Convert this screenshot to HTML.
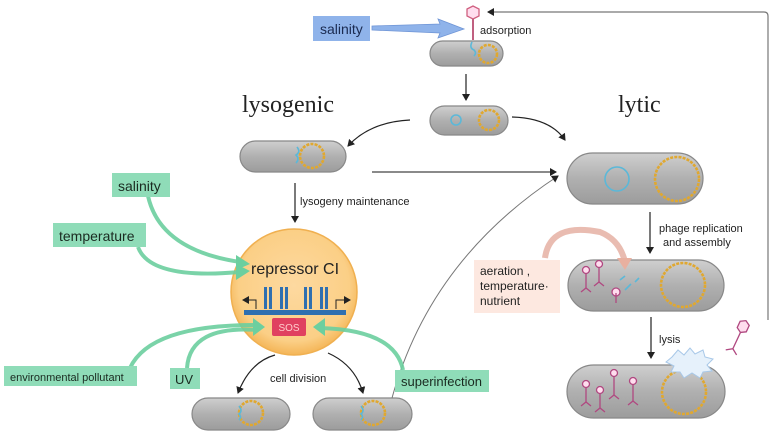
<!DOCTYPE html>
<html><head><meta charset="utf-8"><style>
html,body{margin:0;padding:0;background:#fff;}
svg{display:block;font-family:"Liberation Sans",sans-serif;}
</style></head><body>
<svg width="774" height="436" viewBox="0 0 774 436" xmlns="http://www.w3.org/2000/svg">
<defs>
<linearGradient id="cg" x1="0" y1="0" x2="0" y2="1">
<stop offset="0" stop-color="#cfcfcf"/><stop offset="0.5" stop-color="#b0b0b0"/><stop offset="1" stop-color="#9c9c9c"/>
</linearGradient>
<radialGradient id="og" cx="0.5" cy="0.45" r="0.55">
<stop offset="0" stop-color="#fdd9a0"/><stop offset="0.8" stop-color="#fbcf86"/><stop offset="1" stop-color="#f4b557"/>
</radialGradient>
<marker id="ah" markerWidth="8" markerHeight="8" refX="6" refY="4" orient="auto" markerUnits="userSpaceOnUse">
<path d="M0,0 L7,4 L0,8 z" fill="#222"/></marker>
</defs>

<path d="M768,320 L768,16 Q768,12 764,12 L488,12" fill="none" stroke="#777" stroke-width="1.2" marker-end="url(#ah)"/>

<polygon points="467,9 473,6 479,9 479,16 473,19 467,16" fill="#fde" stroke="#d06080" stroke-width="1.3"/>
<line x1="473" y1="19" x2="473" y2="40" stroke="#c06080" stroke-width="2"/>
<rect x="313" y="16" width="57" height="25" fill="#8fb3ea"/>
<text x="320" y="34" font-size="14" fill="#1a2a50">salinity</text>
<polygon points="372,26 440,24 438,19 464,29 438,38 440,33 372,30" fill="#8fb3ea" stroke="#6f95d6" stroke-width="0.8"/>
<text x="480" y="34" font-size="11" fill="#222">adsorption</text>

<g stroke="#888" stroke-width="1.2" fill="url(#cg)">
<rect x="430" y="41" width="73" height="25" rx="12.5"/>
<rect x="430" y="106" width="78" height="29" rx="14.5"/>
<rect x="240" y="141" width="106" height="31" rx="15.5"/>
<rect x="567" y="153" width="136" height="51" rx="25.5"/>
<rect x="568" y="260" width="156" height="51" rx="25.5"/>
<rect x="567" y="365" width="158" height="53" rx="26.5"/>
<rect x="192" y="398" width="98" height="32" rx="16"/>
<rect x="313" y="398" width="99" height="32" rx="16"/>
</g>
<g fill="none" stroke="#e0a830" stroke-width="2.6" stroke-dasharray="3 1.2">
<circle cx="488" cy="54" r="9"/>
<circle cx="489" cy="120" r="10"/>
<circle cx="312" cy="156" r="12"/>
<circle cx="677" cy="179" r="22"/>
<circle cx="683" cy="285" r="22"/>
<circle cx="684" cy="392" r="22"/>
<circle cx="251" cy="413" r="12"/>
<circle cx="373" cy="413" r="12"/>
</g>
<g fill="none" stroke="#5bb8d8" stroke-width="1.6">
<circle cx="456" cy="120" r="5"/>
<circle cx="617" cy="179" r="12"/>
<path d="M472,42 q-3,6 2,8 q3,3 0,6"/>
<path d="M297,147 q4,5 -1,8 q4,4 0,8"/>
<path d="M239,406 q4,5 0,8 q3,3 0,6"/>
<path d="M361,406 q4,5 0,8 q3,3 0,6"/>
<path d="M620,280 l5,-4 M625,290 l6,-6 M612,295 l5,-3 M635,282 l4,-4"/>
</g>

<text x="242" y="112" font-family="Liberation Serif,serif" font-size="24" fill="#222">lysogenic</text>
<text x="618" y="112" font-family="Liberation Serif,serif" font-size="24" fill="#222">lytic</text>

<g fill="none" stroke="#222" stroke-width="1.2">
<line x1="466" y1="74" x2="466" y2="100" marker-end="url(#ah)"/>
<path d="M410,120 Q370,122 348,146" marker-end="url(#ah)"/>
<path d="M512,117 Q550,118 565,140" marker-end="url(#ah)"/>
<line x1="372" y1="172" x2="556" y2="172" stroke="#444" marker-end="url(#ah)"/>
<path d="M392,398 Q430,260 558,176" stroke="#777" stroke-width="1" marker-end="url(#ah)"/>
<line x1="295" y1="183" x2="295" y2="222" marker-end="url(#ah)"/>
<path d="M275,355 Q250,362 238,393" marker-end="url(#ah)"/>
<path d="M328,353 Q355,365 363,393" marker-end="url(#ah)"/>
<line x1="650" y1="212" x2="650" y2="253" marker-end="url(#ah)"/>
<line x1="651" y1="317" x2="651" y2="358" marker-end="url(#ah)"/>
</g>
<text x="300" y="205" font-size="11" fill="#222">lysogeny maintenance</text>
<text x="270" y="382" font-size="11" fill="#222">cell division</text>
<text x="659" y="232" font-size="11" fill="#222">phage replication</text>
<text x="663" y="246" font-size="11" fill="#222">and assembly</text>
<text x="659" y="343" font-size="11" fill="#222">lysis</text>

<circle cx="294" cy="292" r="63" fill="url(#og)" stroke="#f0b050" stroke-width="1.5"/>
<text x="251" y="274" font-size="16" fill="#222">repressor CI</text>
<g fill="#2f6fb0">
<rect x="244" y="310" width="102" height="5"/>
<rect x="264" y="287" width="3" height="22"/><rect x="269" y="287" width="3" height="22"/>
<rect x="280" y="287" width="3" height="22"/><rect x="285" y="287" width="3" height="22"/>
<rect x="304" y="287" width="3" height="22"/><rect x="309" y="287" width="3" height="22"/>
<rect x="320" y="287" width="3" height="22"/><rect x="325" y="287" width="3" height="22"/>
</g>
<path d="M256,309 V300 H243" fill="none" stroke="#222" stroke-width="1" marker-end="url(#ah)"/>
<path d="M336,309 V300 H350" fill="none" stroke="#222" stroke-width="1" marker-end="url(#ah)"/>
<rect x="272" y="318" width="34" height="18" rx="2" fill="#e04060"/>
<text x="289" y="331" font-size="10" fill="#fcc" text-anchor="middle">SOS</text>

<g fill="none" stroke="#6ccf9f" stroke-width="4" opacity="0.9">
<path d="M148,196 Q160,250 240,262"/>
<path d="M138,247 Q150,280 240,272"/>
<path d="M130,368 Q150,325 255,325"/>
<path d="M187,368 Q190,325 258,330"/>
<path d="M403,370 Q395,330 320,328"/>
</g>
<g fill="#6ccf9f">
<polygon points="236,255 250,264 236,270"/>
<polygon points="236,264 250,271 236,280"/>
<polygon points="253,318 265,327 253,336"/>
<polygon points="325,318 313,327 325,336"/>
</g>

<g fill="#8fdcb8">
<rect x="112" y="173" width="58" height="24"/>
<rect x="53" y="223" width="93" height="24"/>
<rect x="4" y="366" width="133" height="20"/>
<rect x="170" y="368" width="30" height="21"/>
<rect x="395" y="370" width="94" height="22"/>
</g>
<g fill="#1a2a20">
<text x="118" y="191" font-size="14">salinity</text>
<text x="59" y="241" font-size="14">temperature</text>
<text x="10" y="381" font-size="11">environmental pollutant</text>
<text x="175" y="384" font-size="13">UV</text>
<text x="401" y="386" font-size="13">superinfection</text>
</g>

<rect x="474" y="260" width="86" height="53" fill="#fde8e0"/>
<text x="480" y="275" font-size="12" fill="#222">aeration ,</text>
<text x="480" y="290" font-size="12" fill="#222">temperature·</text>
<text x="480" y="305" font-size="12" fill="#222">nutrient</text>
<path d="M545,258 Q550,222 600,232 Q620,240 625,262" fill="none" stroke="#e0a090" stroke-width="6" opacity="0.7"/>
<polygon points="617,258 632,258 625,270" fill="#e8b0a0"/>

<g stroke="#b04880" stroke-width="1.3" fill="#fde">
<g transform="translate(586,270)"><circle r="3.5"/><line x1="0" y1="4" x2="0" y2="18"/><path d="M-5,22 l5,-4 l5,4" fill="none"/></g>
<g transform="translate(599,264)"><circle r="3.5"/><line x1="0" y1="4" x2="0" y2="18"/><path d="M-5,22 l5,-4 l5,4" fill="none"/></g>
<g transform="translate(616,292)"><circle r="4"/></g>
<g transform="translate(616,293)"><line x1="0" y1="0" x2="0" y2="10"/></g>
<g transform="translate(586,384)"><circle r="3.5"/><line x1="0" y1="4" x2="0" y2="18"/><path d="M-5,22 l5,-4 l5,4" fill="none"/></g>
<g transform="translate(600,390)"><circle r="3.5"/><line x1="0" y1="4" x2="0" y2="18"/><path d="M-5,22 l5,-4 l5,4" fill="none"/></g>
<g transform="translate(614,373)"><circle r="3.5"/><line x1="0" y1="4" x2="0" y2="22"/><path d="M-5,26 l5,-4 l5,4" fill="none"/></g>
<g transform="translate(633,381)"><circle r="3.5"/><line x1="0" y1="4" x2="0" y2="20"/><path d="M-5,24 l5,-4 l5,4" fill="none"/></g>
<g transform="translate(743,327) rotate(25)"><polygon points="-5,-4 0,-7 5,-4 5,3 0,6 -5,3"/><line x1="0" y1="6" x2="0" y2="24"/><path d="M-6,28 l6,-4 l6,4" fill="none"/></g>
</g>
<polygon points="672,357 678,350 684,355 690,348 695,354 703,350 705,357 713,359 707,365 712,371 703,372 700,378 692,373 684,378 680,372 671,372 674,366 666,362" fill="#e6f1fb" stroke="#a8c8e8" stroke-width="1"/>
</svg>
</body></html>
